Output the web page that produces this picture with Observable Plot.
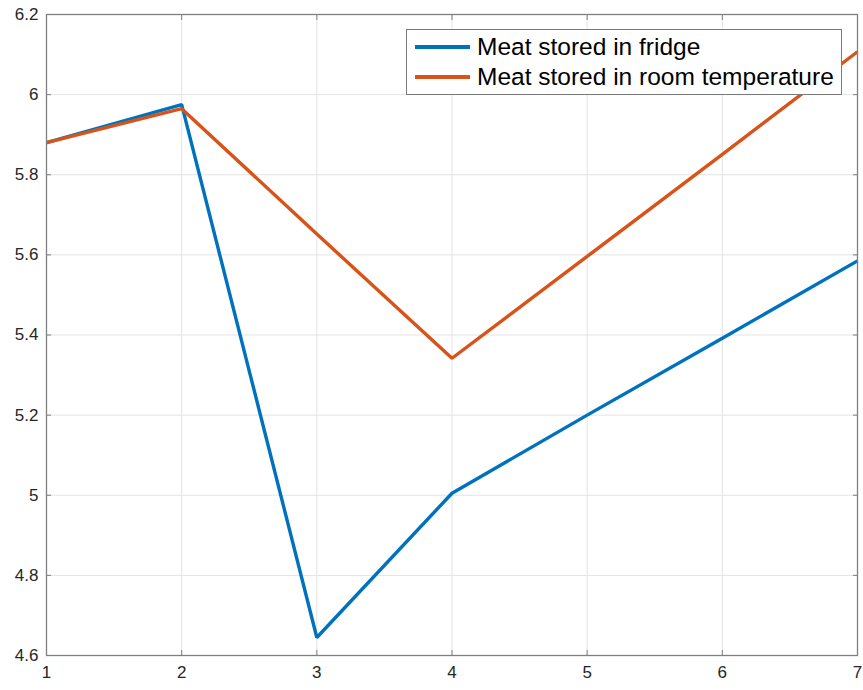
<!DOCTYPE html>
<html>
<head>
<meta charset="utf-8">
<script src="https://cdn.jsdelivr.net/npm/d3@7"></script>
<script src="https://cdn.jsdelivr.net/npm/@observablehq/plot@0.6"></script>
<style>
  html, body { margin: 0; padding: 0; background: #fff; }
  #wrap { position: relative; width: 863px; height: 690px; font-family: "Liberation Sans", Arial, Helvetica, sans-serif; }
  #legend { position: absolute; left: 406px; top: 29px; width: 434px; height: 64px; background: #fff; border: 1px solid #7a7a7a; }
  .item { position: absolute; left: 0; height: 30px; display: flex; align-items: center; font-size: 24.5px; color: #000; white-space: nowrap; }
  .swatch { display: inline-block; width: 55px; height: 3.3px; margin-left: 8px; margin-right: 7px; }
</style>
</head>
<body>
<div id="wrap"></div>
<script>
const days = [1, 2, 3, 4, 5, 6, 7];
const fridge = [5.88, 5.975, 4.645, 5.005, 5.2, 5.392, 5.585];
const room = [5.88, 5.965, 5.652, 5.342, 5.596, 5.851, 6.107];
const seriesNames = ["Meat stored in fridge", "Meat stored in room temperature"];
const seriesColors = ["#0072BD", "#D95319"];
const xTicks = [1, 2, 3, 4, 5, 6, 7];
const yTicks = [4.6, 4.8, 5, 5.2, 5.4, 5.6, 5.8, 6, 6.2];

const data = [
  ...days.map((d, i) => ({day: d, value: fridge[i], series: seriesNames[0]})),
  ...days.map((d, i) => ({day: d, value: room[i], series: seriesNames[1]}))
];

const axisColor = "#7f7f7f";
const chart = Plot.plot({
  width: 863,
  height: 690,
  marginLeft: 46,
  marginRight: 6,
  marginTop: 14,
  marginBottom: 35,
  style: {fontFamily: '"Liberation Sans", Arial, Helvetica, sans-serif', fontSize: "17px", color: "#262626", background: "#fff"},
  x: {domain: [1, 7]},
  y: {domain: [4.6, 6.2]},
  color: {domain: seriesNames, range: seriesColors},
  marks: [
    Plot.gridX(xTicks, {stroke: "#e3e3e3", strokeOpacity: 1}),
    Plot.gridY(yTicks, {stroke: "#e3e3e3", strokeOpacity: 1}),
    Plot.axisX(xTicks, {anchor: "bottom", tickSize: 0, tickPadding: 10, label: null, tickFormat: d => String(d), fill: "#262626"}),
    Plot.axisY(yTicks, {anchor: "left", tickSize: 0, tickPadding: 8, label: null, tickFormat: d => String(+d.toFixed(1)), fill: "#262626"}),
    Plot.axisX(xTicks, {anchor: "bottom", tickSize: -5, tickFormat: null, label: null, stroke: axisColor, text: null}),
    Plot.axisX(xTicks, {anchor: "top", tickSize: -5, tickFormat: null, label: null, stroke: axisColor, text: null}),
    Plot.axisY(yTicks, {anchor: "left", tickSize: -5, tickFormat: null, label: null, stroke: axisColor, text: null}),
    Plot.axisY(yTicks, {anchor: "right", tickSize: -5, tickFormat: null, label: null, stroke: axisColor, text: null}),
    Plot.line(data, {x: "day", y: "value", z: "series", stroke: "series", strokeWidth: 3.4, strokeLinejoin: "miter", strokeLinecap: "butt"}),
    Plot.frame({stroke: axisColor, strokeWidth: 1.3})
  ]
});

const wrap = document.getElementById("wrap");
wrap.appendChild(chart);

const legend = document.createElement("div");
legend.id = "legend";
seriesNames.forEach((name, i) => {
  const item = document.createElement("div");
  item.className = "item";
  item.style.top = (i === 0 ? 2 : 32) + "px";
  const sw = document.createElement("span");
  sw.className = "swatch";
  sw.style.background = seriesColors[i];
  const label = document.createElement("span");
  label.textContent = name;
  item.appendChild(sw);
  item.appendChild(label);
  legend.appendChild(item);
});
wrap.appendChild(legend);
</script>
</body>
</html>
